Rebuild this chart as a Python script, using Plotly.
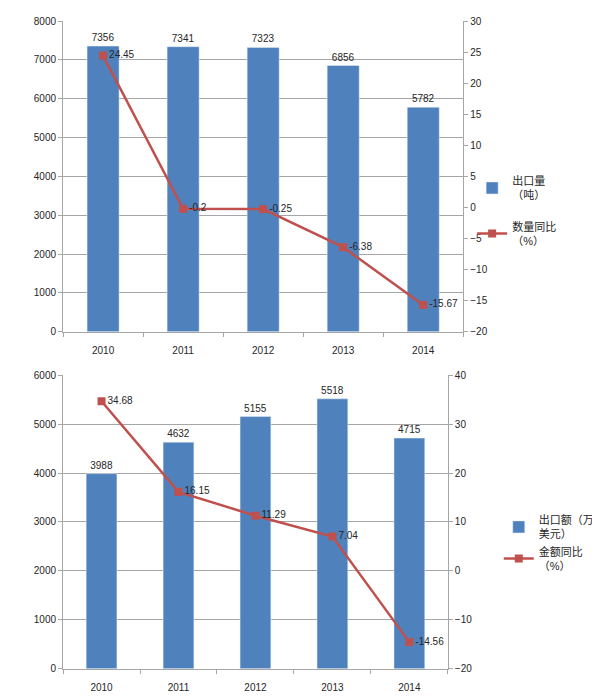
import plotly.graph_objects as go

years = ["2010", "2011", "2012", "2013", "2014"]

# top chart: export volume and yoy change
volume = [7356, 7341, 7323, 6856, 5782]
volume_yoy = [24.45, -0.2, -0.25, -6.38, -15.67]

# bottom chart: export value and yoy change
value = [3988, 4632, 5155, 5518, 4715]
value_yoy = [34.68, 16.15, 11.29, 7.04, -14.56]

blue = "#4F81BD"
red = "#C0504D"
grid = "#A6A6A6"
txt = "#262626"
font_main = "Liberation Sans, Noto Sans CJK SC, sans-serif"

fig = go.Figure()

fig.add_trace(go.Bar(x=years, y=volume, name="出口量<br>（吨）",
                     marker_color=blue, width=0.4,
                     text=[str(v) for v in volume], textposition="outside",
                     textfont=dict(size=10, color=txt), cliponaxis=False,
                     xaxis="x", yaxis="y", legend="legend", legendgroup="a"))
fig.add_trace(go.Scatter(x=years, y=volume_yoy, name="数量同比<br>（%）",
                         mode="lines+markers+text",
                         line=dict(color=red, width=2.5),
                         marker=dict(symbol="square", size=8, color=red),
                         text=[str(v) for v in volume_yoy], textposition="middle right",
                         textfont=dict(size=10, color=txt), cliponaxis=False,
                         xaxis="x", yaxis="y2", legend="legend", legendgroup="b"))

fig.add_trace(go.Bar(x=years, y=value, name="出口额（万<br>美元）",
                     marker_color=blue, width=0.4,
                     text=[str(v) for v in value], textposition="outside",
                     textfont=dict(size=10, color=txt), cliponaxis=False,
                     xaxis="x2", yaxis="y3", legend="legend2"))
fig.add_trace(go.Scatter(x=years, y=value_yoy, name="金额同比<br>（%）",
                         mode="lines+markers+text",
                         line=dict(color=red, width=2.5),
                         marker=dict(symbol="square", size=8, color=red),
                         text=[str(v) for v in value_yoy], textposition="middle right",
                         textfont=dict(size=10, color=txt), cliponaxis=False,
                         xaxis="x2", yaxis="y4", legend="legend2"))

xcommon = dict(type="category", showline=True, linecolor=grid, ticks="outside",
               tickson="boundaries", tickcolor=grid, ticklen=4, showgrid=False,
               tickfont=dict(size=10, color=txt), automargin=False,
               ticklabelstandoff=9)
ycommon = dict(showline=True, linecolor=grid, ticks="outside", tickcolor=grid,
               ticklen=4, tickfont=dict(size=10, color=txt), zeroline=False,
               automargin=False)

# page body has an 8px margin, so the figure is a bit smaller than the window
fig.update_layout(
    width=592, height=689,
    margin=dict(l=0, r=0, t=0, b=0, autoexpand=False),
    paper_bgcolor="white", plot_bgcolor="white",
    font=dict(family=font_main, size=10, color=txt),
    barmode="overlay",
    xaxis=dict(xcommon, domain=[0.093, 0.769], anchor="y"),
    yaxis=dict(ycommon, range=[0, 8000], dtick=1000, showgrid=True,
               gridcolor=grid, anchor="x", domain=[0.530, 0.981]),
    yaxis2=dict(ycommon, range=[-20, 30], dtick=5, showgrid=False,
                overlaying="y", side="right", anchor="x"),
    xaxis2=dict(xcommon, domain=[0.093, 0.743], anchor="y3"),
    yaxis3=dict(ycommon, range=[0, 6000], dtick=1000, showgrid=True,
                gridcolor=grid, anchor="x2", domain=[0.041, 0.467]),
    yaxis4=dict(ycommon, range=[-20, 40], dtick=10, showgrid=False,
                overlaying="y3", side="right", anchor="x2"),
    legend=dict(x=0.784, y=0.769, xanchor="left", yanchor="top",
                font=dict(size=11, color=txt), tracegroupgap=14,
                bgcolor="rgba(0,0,0,0)"),
    legend2=dict(x=0.829, y=0.277, xanchor="left", yanchor="top",
                 font=dict(size=11, color=txt), tracegroupgap=0,
                 bgcolor="rgba(0,0,0,0)"),
)

fig.write_html("out.html")
